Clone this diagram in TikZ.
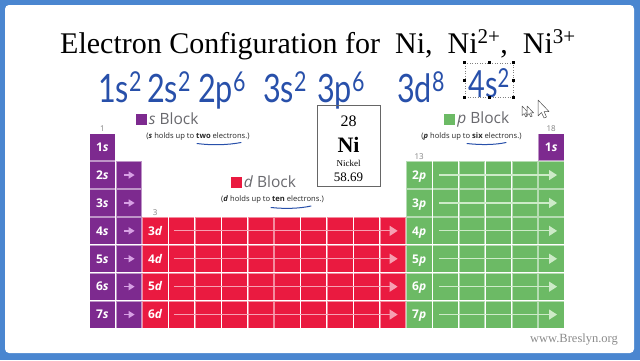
\documentclass[tikz,border=0pt]{standalone}
\usepackage{fontspec}
\setmainfont{Liberation Serif}
\newfontfamily\blksans{Open Sans}
\newfontfamily\handfont{Lato}
\usetikzlibrary{matrix,arrows.meta,positioning}

\definecolor{framebl}{RGB}{74,134,208}
\definecolor{sblk}{RGB}{125,42,143}
\definecolor{dblk}{RGB}{234,26,64}
\definecolor{pblk}{RGB}{108,186,101}
\definecolor{sarrc}{RGB}{215,160,228}
\definecolor{darrc}{RGB}{246,160,178}
\definecolor{parrc}{RGB}{205,235,200}
\definecolor{headgray}{RGB}{105,105,110}
\definecolor{grpgray}{RGB}{130,130,130}
\definecolor{handbl}{RGB}{40,80,170}

\tikzset{
  ptcell/.style={minimum width=25.7pt, minimum height=27.2pt, inner sep=0pt, outer sep=0pt,
    anchor=center, text height=8.6pt, text depth=0pt,
    text=white, font=\blksans\bfseries\fontsize{12}{12}\selectfont},
  scell/.style={fill=sblk, draw=white, draw opacity=0.5, line width=0.7pt},
  dcell/.style={fill=dblk, draw=white, draw opacity=0.5, line width=0.7pt},
  pcell/.style={fill=pblk, draw=white, draw opacity=0.5, line width=0.7pt},
  sarr/.style={color=sarrc, line width=1.4pt, -{Triangle[length=6pt,width=7pt]}, shorten <=8pt, shorten >=7pt},
  darr/.style={color=darrc, line width=1.2pt, -{Triangle[length=8pt,width=10pt]}, shorten <=5pt, shorten >=8pt},
  parr/.style={color=parrc, line width=1.2pt, -{Triangle[length=8pt,width=10pt]}, shorten <=6pt, shorten >=7pt},
  grp/.style={text=grpgray, font=\blksans\fontsize{8}{8}\selectfont, inner sep=1pt},
  blksq/.style={minimum size=11pt, inner sep=0pt},
  blkhead/.style={text=headgray, font=\blksans\fontsize{15.5}{16}\selectfont, inner sep=1pt},
  blknote/.style={text=black!85, font=\blksans\fontsize{7.6}{8}\selectfont, inner sep=0pt},
  uline/.style={draw=handbl, line width=1pt, line cap=round},
  handtxt/.style={text=handbl, font=\handfont\fontsize{34}{34}\selectfont, inner sep=0pt},
  selbox/.style={draw=black!50, dotted, line width=0.5pt, minimum width=48pt, minimum height=34pt, inner sep=0pt},
  selhandle/.style={fill=black, minimum size=3pt, inner sep=0pt},
  ptrshape/.style={fill=white, draw=black!70, line width=0.5pt, line join=round},
  ptr/.pic={\draw[ptrshape] (0,0) -- (0,16) -- (3.5,12.5) -- (6,18) -- (8.5,17) -- (6,11.5) -- (11,11.5) -- cycle;}
}

\begin{document}
\begin{tikzpicture}[x=1pt,y=-1pt]
  \useasboundingbox (0,0) rectangle (640,360);
  \fill[framebl] (0,0) rectangle (640,360);
  \fill[white, rounded corners=4pt] (5,5) rectangle (634,353);

  % title and written configuration
  \node[font=\fontsize{30}{30}\selectfont, anchor=base west, inner sep=0pt] (title) at (60,53)
    {Electron Configuration for\ \ Ni,\ \ Ni\textsuperscript{2+},\ \ Ni\textsuperscript{3+}};
  \foreach \x/\t/\e [count=\i] in {98/1s/2,147/2s/2,198/2p/6,263/3s/2,317/3p/6,397/3d/8}
    \node[handtxt, anchor=base west] (cfg\i) at (\x,102) {\scalebox{0.9}[1.15]{\t\textsuperscript{\e}}};
  \node[selbox] (sel) at (489,80) {};
  \node[handtxt, anchor=base] (lastorb) at (489,97) {\scalebox{0.85}[1.1]{4s\textsuperscript{2}}};
  \foreach \a in {north west,north,north east,east,south east,south,south west,west}
    \node[selhandle] at (sel.\a) {};
  \pic[scale=0.6] at (522,106) {ptr};
  \pic[scale=0.6] at (527,106) {ptr};
  \pic at (538,100) {ptr};

  % periodic table blocks
  \matrix (pt) [matrix of nodes, nodes in empty cells, anchor=north west, inner sep=0pt,
    row sep=0pt, column sep=0pt, nodes={ptcell}] at (89,133)
  {
|[scell]| 1\textit{s} & & & & & & & & & & & & & & & & & |[scell]| 1\textit{s} \\
|[scell]| 2\textit{s} & |[scell]| & & & & & & & & & & & |[pcell]| 2\textit{p} & |[pcell]| & |[pcell]| & |[pcell]| & |[pcell]| & |[pcell]| \\
|[scell]| 3\textit{s} & |[scell]| & & & & & & & & & & & |[pcell]| 3\textit{p} & |[pcell]| & |[pcell]| & |[pcell]| & |[pcell]| & |[pcell]| \\
|[scell]| 4\textit{s} & |[scell]| & |[dcell]| 3\textit{d} & |[dcell]| & |[dcell]| & |[dcell]| & |[dcell]| & |[dcell]| & |[dcell]| & |[dcell]| & |[dcell]| & |[dcell]| & |[pcell]| 4\textit{p} & |[pcell]| & |[pcell]| & |[pcell]| & |[pcell]| & |[pcell]| \\
|[scell]| 5\textit{s} & |[scell]| & |[dcell]| 4\textit{d} & |[dcell]| & |[dcell]| & |[dcell]| & |[dcell]| & |[dcell]| & |[dcell]| & |[dcell]| & |[dcell]| & |[dcell]| & |[pcell]| 5\textit{p} & |[pcell]| & |[pcell]| & |[pcell]| & |[pcell]| & |[pcell]| \\
|[scell]| 6\textit{s} & |[scell]| & |[dcell]| 5\textit{d} & |[dcell]| & |[dcell]| & |[dcell]| & |[dcell]| & |[dcell]| & |[dcell]| & |[dcell]| & |[dcell]| & |[dcell]| & |[pcell]| 6\textit{p} & |[pcell]| & |[pcell]| & |[pcell]| & |[pcell]| & |[pcell]| \\
|[scell]| 7\textit{s} & |[scell]| & |[dcell]| 6\textit{d} & |[dcell]| & |[dcell]| & |[dcell]| & |[dcell]| & |[dcell]| & |[dcell]| & |[dcell]| & |[dcell]| & |[dcell]| & |[pcell]| 7\textit{p} & |[pcell]| & |[pcell]| & |[pcell]| & |[pcell]| & |[pcell]| \\
  };
  \path[sarr] \foreach \r in {2,...,7} {(pt-\r-2.west) edge (pt-\r-2.east)};
  \path[darr] \foreach \r in {4,...,7} {(pt-\r-4.west) edge (pt-\r-12.east)};
  \path[parr] \foreach \r in {2,...,7} {(pt-\r-14.west) edge (pt-\r-18.east)};

  \node[grp, above=0.5pt of pt-1-1] (g1) {1};
  \node[grp, above=0.5pt of pt-4-3] (g3) {3};
  \node[grp, above=0.5pt of pt-2-13] (g13) {13};
  \node[grp, above=0.5pt of pt-1-18] (g18) {18};

  % block headings
  \node[blksq, fill=sblk] (ssq) at (141,119) {};
  \node[blkhead, right=1pt of ssq] (shead) {\textit{s} Block};
  \node[blknote] (snote) at (198,137) {(\textbf{\textit{s}} holds up to \textbf{two} electrons.)};
  \node[blksq, fill=dblk] (dsq) at (236,182) {};
  \node[blkhead, right=1pt of dsq] (dhead) {\textit{d} Block};
  \node[blknote] (dnote) at (272.5,200) {(\textbf{\textit{d}} holds up to \textbf{ten} electrons.)};
  \node[blksq, fill=pblk] (psq) at (449.5,119) {};
  \node[blkhead, right=1pt of psq] (phead) {\textit{p} Block};
  \node[blknote] (pnote) at (471.5,137) {(\textbf{\textit{p}} holds up to \textbf{six} electrons.)};
  \draw[uline] (197,143.5) .. controls (212,145.5) and (228,145) .. (241,142.5);
  \draw[uline] (271,207.5) .. controls (285,209) and (300,208.5) .. (311,206);
  \draw[uline] (467,143.5) .. controls (480,145) and (495,145) .. (506,142.5);

  % element box
  \node[draw=black!60, line width=0.7pt, minimum width=63pt, minimum height=81pt] (nibox) at (348.5,145.5) {};
  \node[font=\fontsize{16}{16}\selectfont] (nino) at (348.5,121.5) {28};
  \node[font=\fontsize{22}{22}\selectfont\bfseries] (nisym) at (348.5,145) {Ni};
  \node[font=\fontsize{9}{9}\selectfont] (niname) at (348.5,163.5) {Nickel};
  \node[font=\fontsize{13}{13}\selectfont] (nimass) at (348.5,177) {58.69};

  \node[text=black!45, font=\fontsize{12.5}{13}\selectfont] (site) at (574,340) {www.Breslyn.org};
\end{tikzpicture}
\end{document}
